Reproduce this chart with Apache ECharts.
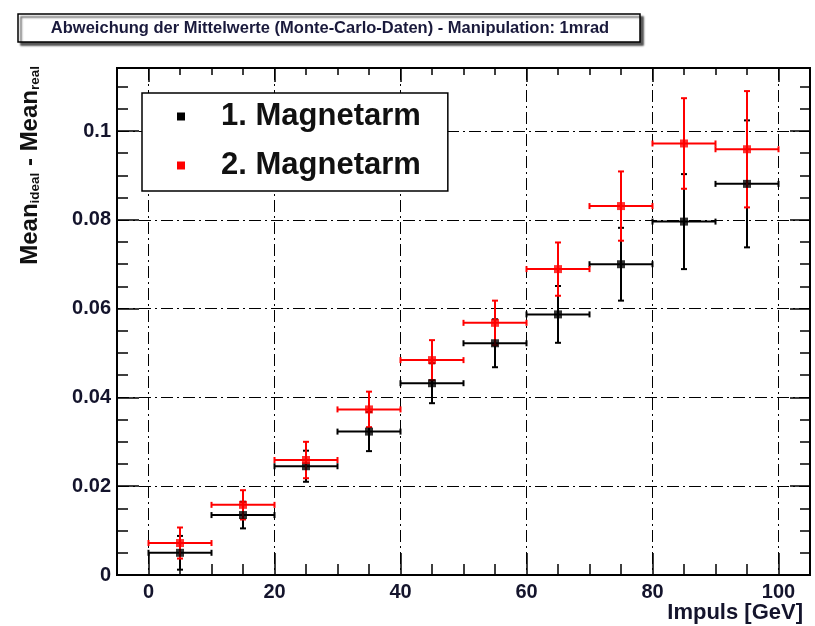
<!DOCTYPE html>
<html>
<head>
<meta charset="utf-8">
<script src="https://cdn.jsdelivr.net/npm/echarts@6/dist/echarts.min.js"></script>
<style>html,body{margin:0;padding:0;background:#fff;}#c{width:815px;height:626px;}</style>
</head>
<body>
<div id="c"></div>
<script>
// ---- data ----
const titleText = 'Abweichung der Mittelwerte (Monte-Carlo-Daten) - Manipulation: 1mrad';
const seriesNames = ['1. Magnetarm', '2. Magnetarm'];
const xCenters = [5, 15, 25, 35, 45, 55, 65, 75, 85, 95];
const xHalfWidth = [5, 5, 5, 5, 5, 5, 5, 5, 5, 5];
const arm1Values = [0.0050, 0.0135, 0.0245, 0.0323, 0.0432, 0.0522, 0.0587, 0.0700, 0.0796, 0.0881];
const arm1Errors = [0.0038, 0.0030, 0.0035, 0.0044, 0.0045, 0.0054, 0.0064, 0.0082, 0.0107, 0.0143];
const arm2Values = [0.0072, 0.0158, 0.0259, 0.0373, 0.0484, 0.0568, 0.0689, 0.0831, 0.0972, 0.0959];
const arm2Errors = [0.0035, 0.0033, 0.0041, 0.0040, 0.0045, 0.0050, 0.0060, 0.0078, 0.0102, 0.0131];
const xMajorTicks = [0, 20, 40, 60, 80, 100];
const xMinorTicks = [5, 10, 15, 25, 30, 35, 45, 50, 55, 65, 70, 75, 85, 90, 95];
const yMajorTicks = [0, 0.02, 0.04, 0.06, 0.08, 0.1];
const yMinorTicks = [0.005, 0.01, 0.015, 0.025, 0.03, 0.035, 0.045, 0.05, 0.055, 0.065, 0.07, 0.075, 0.085, 0.09, 0.095, 0.105, 0.11];
const xRange = [-5, 105];
const yRange = [0, 0.1142];
const xAxisTitle = 'Impuls [GeV]';

// ---- chart ----
const FONT = '"Liberation Sans", Arial, Helvetica, sans-serif';
const TXT = '#14142c';
const colors = ['#000000', '#ff0000'];
const chart = echarts.init(document.getElementById('c'), null, {renderer: 'canvas'});

function build(vals, errs) {
  return xCenters.map((x, i) => [x, vals[i], xHalfWidth[i], errs[i]]);
}

function errRender(color) {
  return function (params, api) {
    const x = api.value(0), y = api.value(1), ex = api.value(2), ey = api.value(3);
    const l = api.coord([x - ex, y]);
    const r = api.coord([x + ex, y]);
    const t = api.coord([x, y + ey]);
    const b = api.coord([x, y - ey]);
    const cap = 3;
    const st = {stroke: color, lineWidth: 2, fill: null};
    const seg = (x1, y1, x2, y2) => ({type: 'line', shape: {x1, y1, x2, y2}, style: st});
    return {
      type: 'group',
      children: [
        seg(l[0], l[1], r[0], r[1]),
        seg(l[0], l[1] - cap, l[0], l[1] + cap),
        seg(r[0], r[1] - cap, r[0], r[1] + cap),
        seg(t[0], t[1], b[0], b[1]),
        seg(t[0] - cap, t[1], t[0] + cap, t[1]),
        seg(b[0] - cap, b[1], b[0] + cap, b[1])
      ]
    };
  };
}

const dashDot = {color: '#000', width: 1, type: [12, 4, 2, 4]};
const labelStyle = {fontSize: 20, fontWeight: 'bold', fontFamily: FONT, color: TXT};

function xAxisDef(pos, ticks, len, extra) {
  return Object.assign({
    type: 'value', gridIndex: 0, position: pos, min: xRange[0], max: xRange[1],
    axisLine: {show: false, onZero: false},
    axisTick: {show: true, inside: true, length: len, customValues: ticks, lineStyle: {color: '#000', width: 1.5}},
    axisLabel: {show: false},
    splitLine: {show: false}
  }, extra || {});
}
function yAxisDef(pos, ticks, len, extra) {
  return Object.assign({
    type: 'value', gridIndex: 0, position: pos, min: yRange[0], max: yRange[1],
    axisLine: {show: false, onZero: false},
    axisTick: {show: true, inside: true, length: len, customValues: ticks, lineStyle: {color: '#000', width: 1.5}},
    axisLabel: {show: false},
    splitLine: {show: false}
  }, extra || {});
}

const option = {
  backgroundColor: '#ffffff',
  animation: false,
  grid: {left: 117, right: 5, top: 68, bottom: 51, show: true, borderColor: '#000', borderWidth: 2, backgroundColor: 'transparent', containLabel: false},
  xAxis: [
    xAxisDef('bottom', xMajorTicks, 22, {
      axisLabel: Object.assign({show: true, customValues: xMajorTicks, margin: 7}, labelStyle),
      splitLine: {show: true, lineStyle: dashDot},
      name: xAxisTitle, nameLocation: 'end', nameGap: -7,
      nameTextStyle: {fontSize: 22, fontWeight: 'bold', fontFamily: FONT, color: TXT, align: 'right', verticalAlign: 'top', padding: [27, 0, 0, 0]}
    }),
    xAxisDef('bottom', xMinorTicks, 11),
    xAxisDef('top', xMajorTicks, 14),
    xAxisDef('top', xMinorTicks, 7)
  ],
  yAxis: [
    yAxisDef('left', yMajorTicks, 22, {
      axisLabel: Object.assign({show: true, customValues: yMajorTicks, margin: 6, formatter: v => String(+(+v).toFixed(3))}, labelStyle),
      splitLine: {show: true, lineStyle: dashDot}
    }),
    yAxisDef('left', yMinorTicks, 11),
    yAxisDef('right', yMajorTicks, 20),
    yAxisDef('right', yMinorTicks, 10)
  ],
  legend: {
    left: 142, top: 93, orient: 'vertical',
    backgroundColor: '#fff', borderColor: '#000', borderWidth: 1.5,
    padding: [8, 27, 10, 35], itemGap: 18,
    itemWidth: 8, itemHeight: 8, icon: 'rect',
    textStyle: {fontSize: 31, fontWeight: 'bold', fontFamily: FONT, color: '#111', padding: [0, 0, 0, 31]},
    data: seriesNames,
    selectedMode: false
  },
  graphic: [
    {type: 'rect', z: 10, shape: {x: 18, y: 14, width: 622, height: 28},
     style: {fill: '#fff', stroke: '#000', lineWidth: 1.5, shadowColor: 'rgba(0,0,0,0.65)', shadowOffsetX: 3, shadowOffsetY: 3, shadowBlur: 2}},
    {type: 'text', z: 11, x: 330, y: 28,
     style: {text: titleText, align: 'center', verticalAlign: 'middle', fontSize: 16.5, fontWeight: 'bold', fontFamily: FONT, fill: '#1a1a3c'}},
    {type: 'text', z: 11, x: 30, y: 66, rotation: Math.PI / 2,
     style: {
       text: '{m|Mean}{s|ideal}{m| - Mean}{s|real}',
       align: 'right', verticalAlign: 'middle',
       rich: {
         m: {fontSize: 24, fontWeight: 'bold', fontFamily: FONT, fill: '#111'},
         s: {fontSize: 13.5, fontWeight: 'bold', fontFamily: FONT, fill: '#111', verticalAlign: 'bottom', padding: [6, 0, 0, 0]}
       }
     }}
  ],
  series: [
    {type: 'custom', name: seriesNames[0], xAxisIndex: 0, yAxisIndex: 0, renderItem: errRender(colors[0]), data: build(arm1Values, arm1Errors), z: 3, itemStyle: {color: colors[0]}, encode: {x: 0, y: 1}},
    {type: 'custom', name: seriesNames[1], xAxisIndex: 0, yAxisIndex: 0, renderItem: errRender(colors[1]), data: build(arm2Values, arm2Errors), z: 4, itemStyle: {color: colors[1]}, encode: {x: 0, y: 1}},
    {type: 'scatter', name: seriesNames[0], xAxisIndex: 0, yAxisIndex: 0, symbol: 'rect', symbolSize: 8, itemStyle: {color: colors[0]}, data: xCenters.map((x, i) => [x, arm1Values[i]]), z: 5},
    {type: 'scatter', name: seriesNames[1], xAxisIndex: 0, yAxisIndex: 0, symbol: 'rect', symbolSize: 8, itemStyle: {color: colors[1]}, data: xCenters.map((x, i) => [x, arm2Values[i]]), z: 6}
  ]
};
chart.setOption(option);
</script>
</body>
</html>
